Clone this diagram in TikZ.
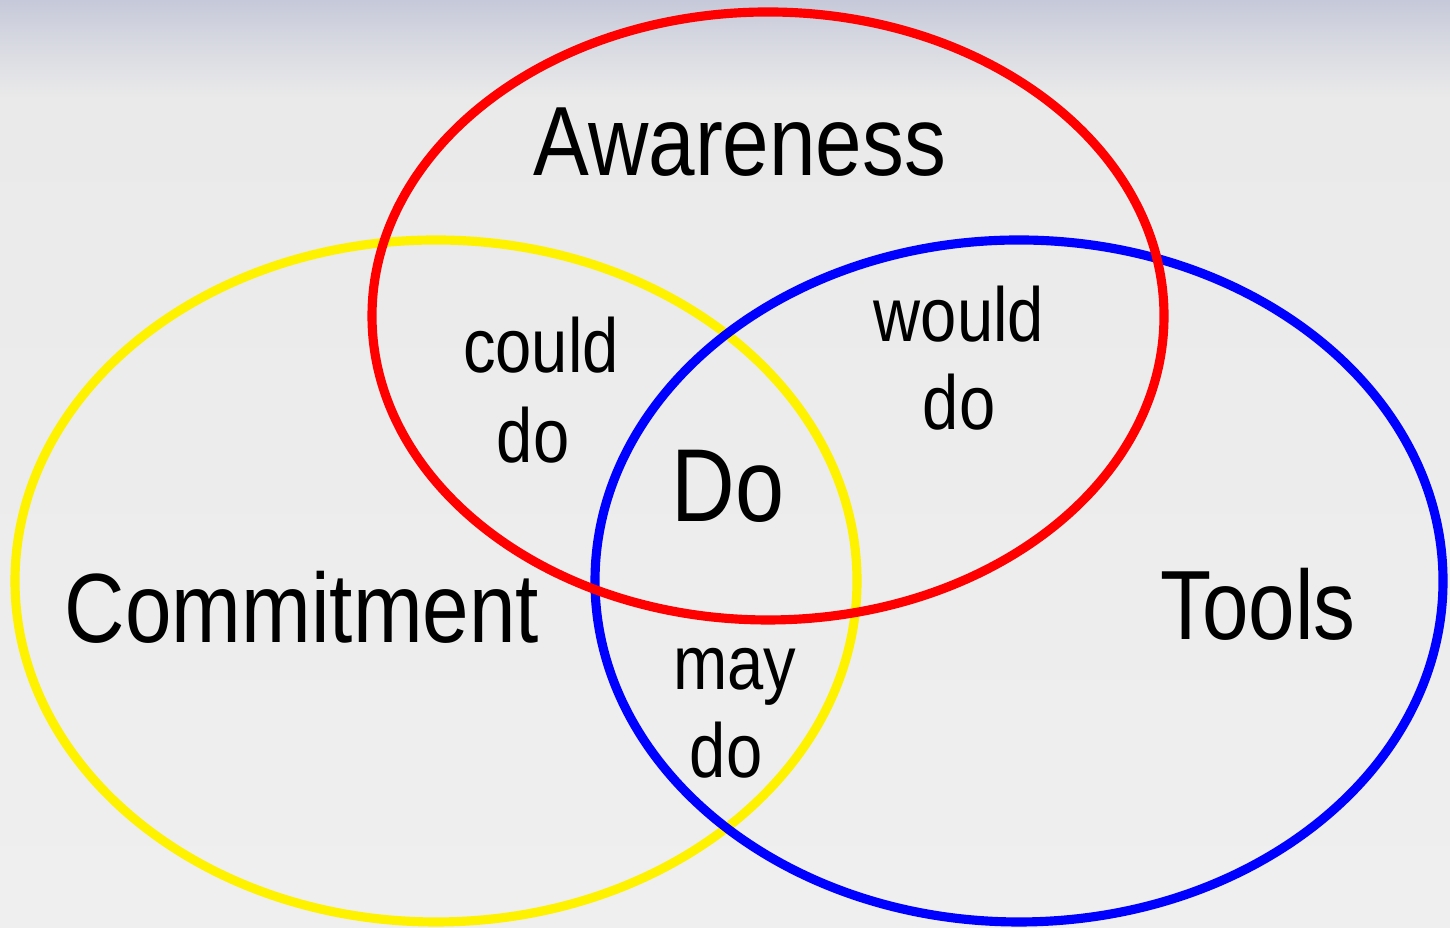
\documentclass[tikz,border=0pt]{standalone}
\usepackage{fontspec}
\setmainfont[FakeStretch=0.85]{Liberation Sans}
\definecolor{bandtop}{HTML}{C6C9D9}
\definecolor{paper}{HTML}{EAEAEA}
\definecolor{paperlow}{HTML}{EFEFEF}
\tikzset{
  ring/.style={line width=2.6pt},
  bigword/.style={anchor=base, font=\fontsize{28}{30}\selectfont},
  smallword/.style={anchor=base, font=\fontsize{21.8}{24}\selectfont}
}
\begin{document}
\begin{tikzpicture}
    % Fondo
    \useasboundingbox (0,0) rectangle (14.5,9.28);
    \shade[top color=paper, bottom color=paperlow] (0,0) rectangle (14.5,8.3);
    \shade[top color=bandtop, bottom color=paper, middle color=bandtop!45!paper] (0,8.3) rectangle (14.5,9.28);
    
    % Elipses (amarilla, azul, roja encima)
    \draw[ring, yellow] (4.36,3.47) ellipse [x radius=4.21, y radius=3.41];
    \draw[ring, blue] (10.19,3.47) ellipse [x radius=4.24, y radius=3.41];
    \draw[ring, red] (7.68,6.12) ellipse [x radius=3.96, y radius=3.04];
    
    % Etiquetas de los conjuntos
    \node[bigword] (awareness) at (7.40,7.52) {Awareness};
    \node[bigword] (commitment) at (3.02,2.85) {Commitment};
    \node[bigword] (tools) at (12.58,2.88) {Tools};
    \node[anchor=base, font=\fontsize{29.5}{32}\selectfont] (do) at (7.28,4.06) {Do};
    
    % Etiquetas de las intersecciones
    \node[smallword] (could) at (5.41,5.55) {could};
    \node[smallword] (coulddo) at (5.33,4.65) {do};
    \node[smallword] (would) at (9.59,5.86) {would};
    \node[smallword] (woulddo) at (9.59,4.98) {do};
    \node[smallword] (may) at (7.35,2.38) {may};
    \node[smallword] (maydo) at (7.26,1.50) {do};
\end{tikzpicture}
\end{document}
